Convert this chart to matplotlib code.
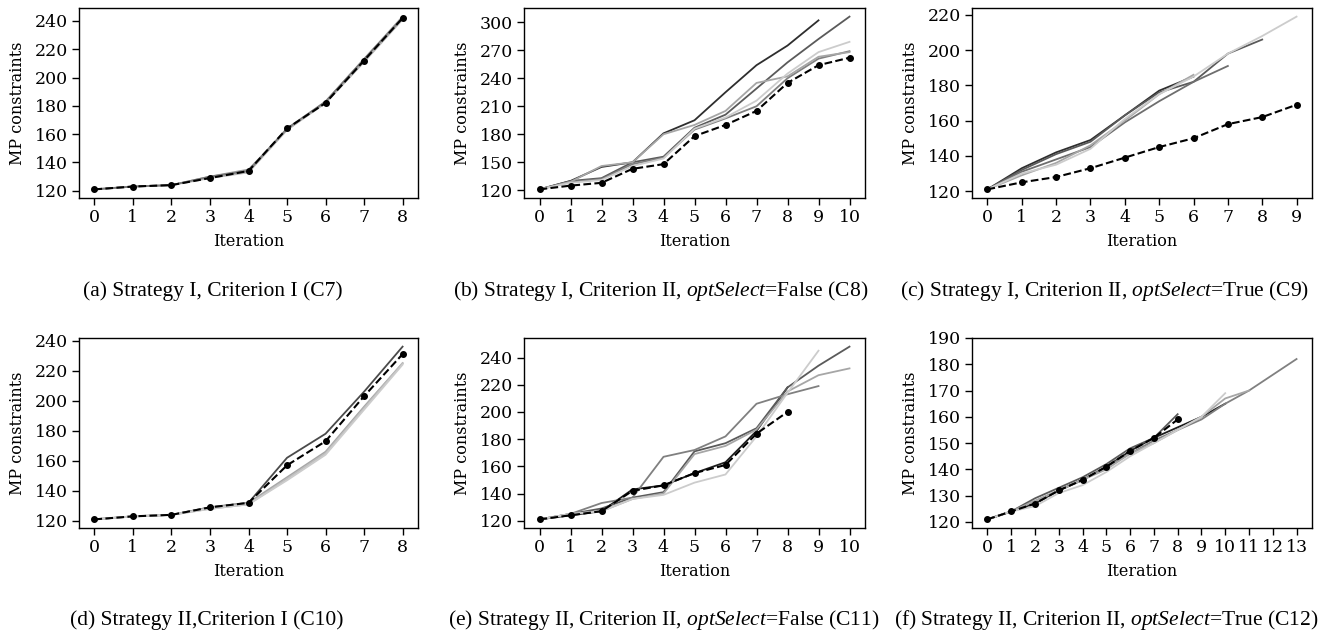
import matplotlib
matplotlib.use("Agg")
import matplotlib.pyplot as plt

plt.rcParams['font.family'] = ['DejaVu Serif']
plt.rcParams['mathtext.fontset'] = 'custom'
plt.rcParams['mathtext.rm'] = 'Liberation Serif'
plt.rcParams['mathtext.it'] = 'Liberation Serif:italic'

# panel (a) Strategy I, Criterion I
a_runs = [
    [121, 123, 124, 130, 135, 163, 183, 213, 243],
    [121, 123, 124, 129, 133, 163, 182, 211, 241],
    [121, 123, 124, 130, 134, 164, 183, 213, 242],
]
a_main = [121, 123, 124, 129, 134, 164, 182, 212, 242]

# panel (b) Strategy I, Criterion II, optSelect=False
b_runs = [
    [121, 130, 145, 150, 181, 195, 225, 254, 275, 302],
    [121, 130, 133, 150, 156, 187, 201, 229, 257, 282, 306],
    [121, 129, 132, 148, 155, 185, 197, 210, 240, 261, 269],
    [121, 129, 146, 150, 180, 190, 205, 235, 242, 263, 268],
    [121, 128, 131, 146, 154, 186, 198, 216, 245, 268, 279],
]
b_main = [121, 125, 128, 143, 148, 178, 190, 205, 235, 254, 262]

# panel (c) Strategy I, Criterion II, optSelect=True
c_runs = [
    [121, 133, 142, 149, 163, 177, 185],
    [121, 132, 141, 148, 163, 176, 182, 198, 206],
    [121, 131, 138, 145, 159, 171, 182, 191],
    [121, 129, 136, 146, 160, 175, 186],
    [121, 130, 135, 144, 161, 175, 185, 198, 208, 219],
]
c_main = [121, 125, 128, 133, 139, 145, 150, 158, 162, 169]

# panel (d) Strategy II, Criterion I
d_runs = [
    [121, 123, 124, 129, 132, 162, 178, 206, 236],
    [121, 123, 124, 129, 132, 149, 166, 196, 225],
    [121, 123, 124, 128, 131, 148, 165, 195, 225],
    [121, 123, 124, 128, 131, 147, 164, 194, 224],
]
d_main = [121, 123, 124, 129, 132, 157, 173, 203, 231]

# panel (e) Strategy II, Criterion II, optSelect=False
e_runs = [
    [121, 124, 127, 143, 146, 155, 163, 186, 218],
    [121, 125, 129, 137, 141, 171, 177, 188, 218, 234, 248],
    [121, 125, 133, 137, 167, 172, 182, 206, 213, 219],
    [121, 125, 127, 136, 140, 169, 175, 187, 215, 227, 232],
    [121, 125, 127, 136, 139, 148, 154, 182, 214, 245],
]
e_main = [121, 124, 127, 142, 146, 155, 161, 184, 200]

# panel (f) Strategy II, Criterion II, optSelect=True
f_runs = [
    [121, 124, 127, 132, 136, 141, 147, 152, 156, 160, 165],
    [121, 124, 129, 133, 137, 142, 148, 152, 161],
    [121, 124, 128, 132, 136, 141, 146, 151, 155, 159, 165, 170, 176, 182],
    [121, 124, 128, 132, 136, 140, 146, 150, 155, 160, 167, 170],
    [121, 124, 126, 131, 134, 139, 145, 150, 155, 160, 169],
]
f_main = [121, 124, 127, 132, 136, 141, 147, 152, 159]

a_cols = ['#9a9a9a', '#b5b5b5', '#7a7a7a']
b_cols = ['#2e2e2e', '#5a5a5a', '#808080', '#a6a6a6', '#cccccc']
c_cols = ['#2e2e2e', '#5a5a5a', '#6e6e6e', '#a6a6a6', '#cccccc']
d_cols = ['#4a4a4a', '#a6a6a6', '#bdbdbd', '#cccccc']
e_cols = ['#1e1e1e', '#5a5a5a', '#808080', '#a6a6a6', '#cccccc']
f_cols = ['#1e1e1e', '#5a5a5a', '#808080', '#a6a6a6', '#cccccc']

panels = [
    (a_runs, a_main, a_cols, [120, 140, 160, 180, 200, 220, 240], None),
    (b_runs, b_main, b_cols, [120, 150, 180, 210, 240, 270, 300], None),
    (c_runs, c_main, c_cols, [120, 140, 160, 180, 200, 220], None),
    (d_runs, d_main, d_cols, [120, 140, 160, 180, 200, 220, 240], None),
    (e_runs, e_main, e_cols, [120, 140, 160, 180, 200, 220, 240], None),
    (f_runs, f_main, f_cols, [120, 130, 140, 150, 160, 170, 180, 190], (117.7, 190)),
]

captions = [
    "(a) Strategy I, Criterion I (C7)",
    r"(b) Strategy I, Criterion II, $\mathit{optSelect}$=False (C8)",
    r"(c) Strategy I, Criterion II, $\mathit{optSelect}$=True (C9)",
    "(d) Strategy II,Criterion I (C10)",
    r"(e) Strategy II, Criterion II, $\mathit{optSelect}$=False (C11)",
    r"(f) Strategy II, Criterion II, $\mathit{optSelect}$=True (C12)",
]

W, H = 1327, 633
fig = plt.figure(figsize=(W / 100, H / 100), dpi=100)

lefts = [79, 524, 972]
rights = [418, 865, 1312]
tops = [8, 338]
bottoms = [198, 528]
cap_x = [213, 661, 1105, 207, 664, 1106]
cap_y = [291, 291, 291, 620, 620, 620]

for i, (runs, main, cols, yt, ylim) in enumerate(panels):
    r, c = divmod(i, 3)
    ax = fig.add_axes([lefts[c] / W, 1 - bottoms[r] / H,
                       (rights[c] - lefts[c]) / W, (bottoms[r] - tops[r]) / H])
    for k, run in enumerate(runs):
        ax.plot(range(len(run)), run, color=cols[k], lw=1.3)
    ax.plot(range(len(main)), main, color='black', ls='--', lw=1.5,
            marker='o', markersize=4)
    n = max(len(run) for run in runs + [main])
    ax.set_xticks(range(n))
    ax.set_yticks(yt)
    if ylim:
        ax.set_ylim(*ylim)
    ax.set_xlabel("Iteration", fontsize=11.5, labelpad=5)
    ax.set_ylabel("MP constraints", fontsize=11.5, labelpad=6)
    ax.tick_params(labelsize=12.5, length=5, width=1, pad=3)
    for s in ax.spines.values():
        s.set_linewidth(1.0)
    fig.text(cap_x[i] / W, 1 - cap_y[i] / H, captions[i], ha='center', va='center',
             fontsize=15.5, family='Liberation Serif')

fig.savefig("out.png", dpi=100)
